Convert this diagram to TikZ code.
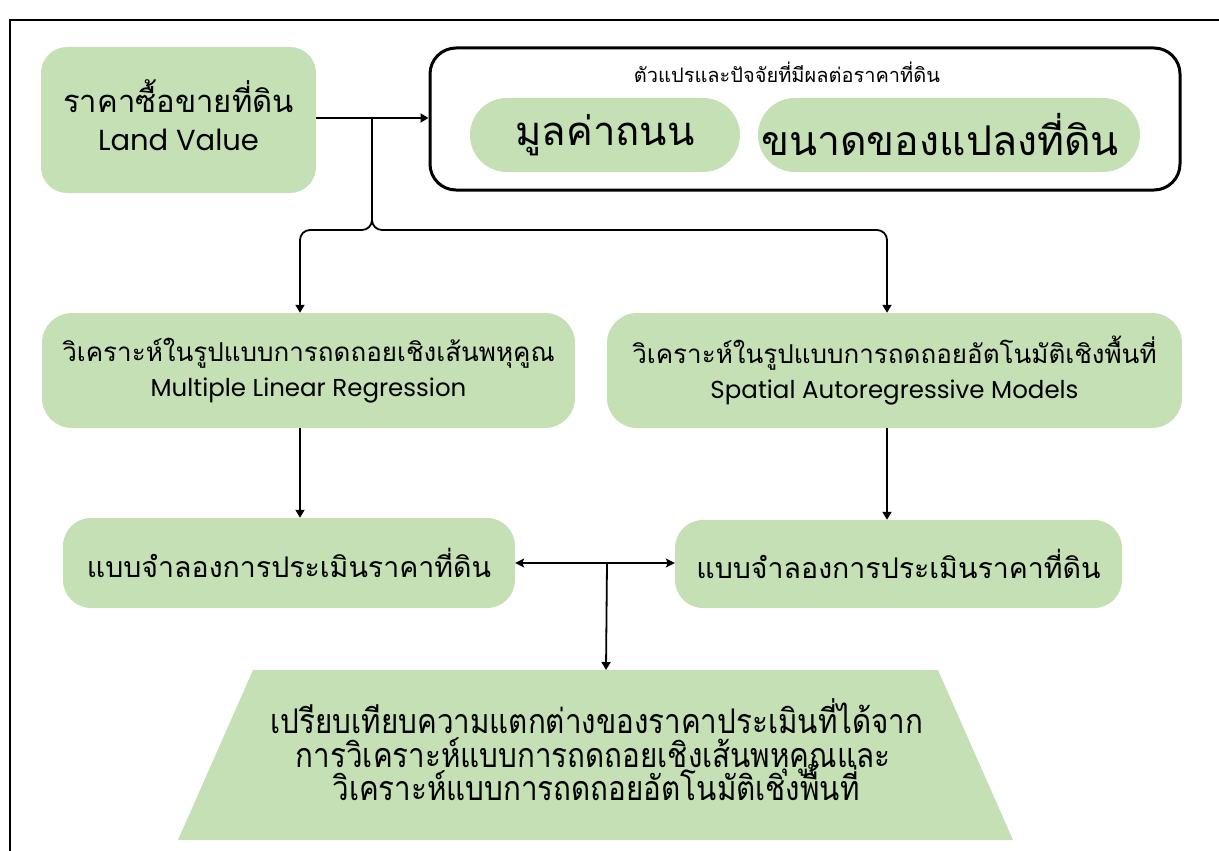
\documentclass[tikz,border=0pt]{standalone}
\usepackage{fontspec}
\setmainfont{Poppins}
\newfontfamily\thaif[Script=Thai]{Loma}
\newfontfamily\thaic[Script=Thai,FakeStretch=0.87]{Loma}
\usetikzlibrary{arrows.meta}
\definecolor{lg}{HTML}{C5E0B4}
\begin{document}
\begin{tikzpicture}[x=1pt,y=-1pt,
  gbox/.style={fill=lg,draw=none,rounded corners=#1,align=center,inner sep=0pt},
  gbox/.default=26pt,
  conn/.style={line width=1.8pt,-{Triangle[length=8pt,width=9pt]}},
  dconn/.style={line width=1.8pt,{Stealth[length=9pt,width=9pt,inset=2pt]}-{Stealth[length=9pt,width=9pt,inset=2pt]}},
  brnch/.style={line width=1.8pt,rounded corners=10pt,-{Triangle[length=8pt,width=9pt]}},
  ctext/.style={anchor=base,inner sep=0pt,font={\thaic\fontsize{34}{34}\selectfont}}]
\useasboundingbox (0,0) rectangle (1219,851);
\draw[line width=1.6pt] (10,851) -- (10,20) -- (1219,20);

\node[gbox, minimum width=275pt, minimum height=146pt] (lv) at (178.5,120) {};
\node[align=center, inner sep=0pt, font={\fontsize{31}{38}\selectfont}] (lvt) at (178.5,115)
  {{\thaif ราคาซื้อขายที่ดิน}\\{\fontsize{29}{38}\selectfont Land Value}};

\node[draw, line width=3pt, rounded corners=26pt, minimum width=750pt, minimum height=142pt, inner sep=0pt] (fac) at (805,119) {};
\node[font={\thaif\fontsize{20}{24}\selectfont}] (lab) at (787,72) {ตัวแปรและปัจจัยที่มีผลต่อราคาที่ดิน};
\node[gbox=37pt, minimum width=270pt, minimum height=74pt, font={\thaif\fontsize{40}{46}\selectfont}] (p1) at (605,135) {มูลค่าถนน};
\node[gbox=37pt, minimum width=382pt, minimum height=74pt] (p2) at (949,135) {};
\node[font={\thaif\fontsize{41}{46}\selectfont}] (p2t) at (940,135) {ขนาดของแปลงที่ดิน};

\node[gbox=30pt, minimum width=533pt, minimum height=115pt, font={\fontsize{26}{35}\selectfont}] (mlr) at (308.5,370.5)
  {{\thaif วิเคราะห์ในรูปแบบการถดถอยเชิงเส้นพหุคูณ}\\{\fontsize{24.5}{35}\selectfont Multiple Linear Regression}};
\node[gbox=30pt, minimum width=575pt, minimum height=115pt, font={\fontsize{26}{35}\selectfont}] (sar) at (894.5,370.5)
  {{\thaif วิเคราะห์ในรูปแบบการถดถอยอัตโนมัติเชิงพื้นที่}\\{\fontsize{24.5}{35}\selectfont Spatial Autoregressive Models}};

\node[gbox=28pt, minimum width=452pt, minimum height=90pt, font={\thaif\fontsize{28.5}{34}\selectfont}] (ml) at (289,563) {แบบจำลองการประเมินราคาที่ดิน};
\node[gbox=28pt, minimum width=447pt, minimum height=88pt, font={\thaif\fontsize{28.5}{34}\selectfont}] (mr) at (898.5,564) {แบบจำลองการประเมินราคาที่ดิน};

\fill[lg] (253,670) -- (938,670) -- (1013,840) -- (178,840) -- cycle;
\node[ctext] (cmp1) at (597,733) {เปรียบเทียบความแตกต่างของราคาประเมินที่ได้จาก};
\node[ctext] (cmp2) at (593,767) {การวิเคราะห์แบบการถดถอยเชิงเส้นพหุคูณและ};
\node[ctext] (cmp3) at (596,800) {วิเคราะห์แบบการถดถอยอัตโนมัติเชิงพื้นที่};
\coordinate (cmptop) at (606,670);

\coordinate (j) at (372,118);
\draw[conn] (lv.east |- j) -- (fac.west |- j);
\draw[brnch] (j) |- (330,230) -| (mlr.north -| 300,0);
\draw[brnch] (j) |- (600,230) -| (sar.north -| 887,0);
\draw[conn] (mlr.south -| 300,0) -- (ml.north -| 300,0);
\draw[conn] (sar.south -| 887,0) -- (mr.north -| 887,0);
\coordinate (mid) at (607,563);
\draw[dconn] (ml.east |- mid) -- (mr.west |- mid);
\draw[conn] (mid) -- (cmptop);
\end{tikzpicture}
\end{document}
